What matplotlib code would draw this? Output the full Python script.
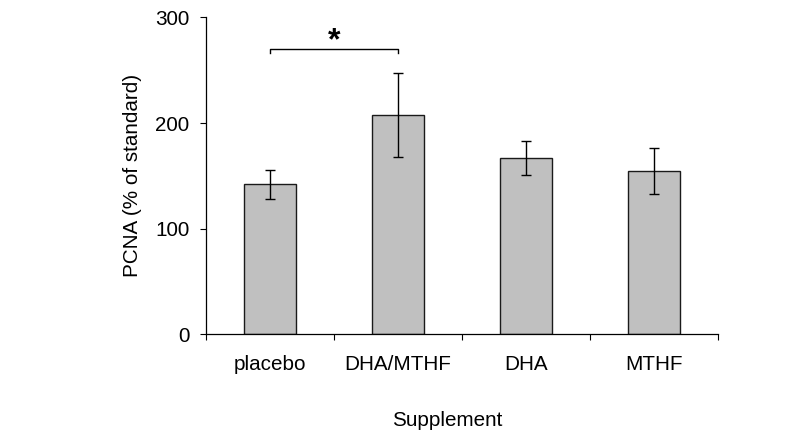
import numpy as np
import matplotlib
matplotlib.use("Agg")
import matplotlib.pyplot as plt

plt.rcParams['font.family'] = ['Liberation Sans', 'DejaVu Sans']

# values
categories = ['placebo', 'DHA/MTHF', 'DHA', 'MTHF']
means = [142, 207.5, 167, 154.5]
sems = [14, 39.5, 16, 22]
sig_pair = (0, 1)   # placebo vs DHA/MTHF
sig_level = 270.5

fig = plt.figure(figsize=(8, 4.34), dpi=100)
ax = fig.add_axes([0.2575, 0.2295, 0.64, 0.7305])

x = np.arange(len(categories))
ax.bar(x, means, width=0.41, color='#c0c0c0', edgecolor='#1a1a1a', linewidth=1.0, zorder=2)
ax.errorbar(x, means, yerr=sems, fmt='none', ecolor='black', elinewidth=1.0,
            capsize=3.8, capthick=1.0, zorder=3)

# significance bracket
x0, x1 = sig_pair
ax.plot([x0, x0, x1, x1], [sig_level - 4, sig_level, sig_level, sig_level - 4],
        color='black', lw=1.0, clip_on=False)
ax.text((x0 + x1) / 2, sig_level - 1, '*', ha='center', va='baseline',
        fontsize=23, fontweight='bold', clip_on=False)

ax.set_xlim(-0.5, len(categories) - 0.5)
ax.set_ylim(0, 300)
ax.set_yticks([0, 100, 200, 300])
ax.tick_params(axis='y', direction='out', length=4.3, width=0.8, pad=7.5, labelsize=14.9)

# category boundaries carry the tick marks, labels sit at the centres
ax.set_xticks(np.arange(-0.5, len(categories)), labels=[])
ax.set_xticks(x, labels=categories, minor=True)
ax.tick_params(axis='x', which='major', direction='out', length=4.3, width=0.8)
ax.tick_params(axis='x', which='minor', length=0, pad=15, labelsize=14.9)

for side in ['top', 'right']:
    ax.spines[side].set_visible(False)
for side in ['left', 'bottom']:
    ax.spines[side].set_linewidth(0.9)

ax.text(0.471, -0.289, 'Supplement', transform=ax.transAxes, ha='center',
        va='baseline', fontsize=14.9)
ax.text(-0.1426, 0.5, 'PCNA (% of standard)', transform=ax.transAxes, ha='center',
        va='center', rotation=90, fontsize=14.9)

fig.savefig('out.png', dpi=100)
